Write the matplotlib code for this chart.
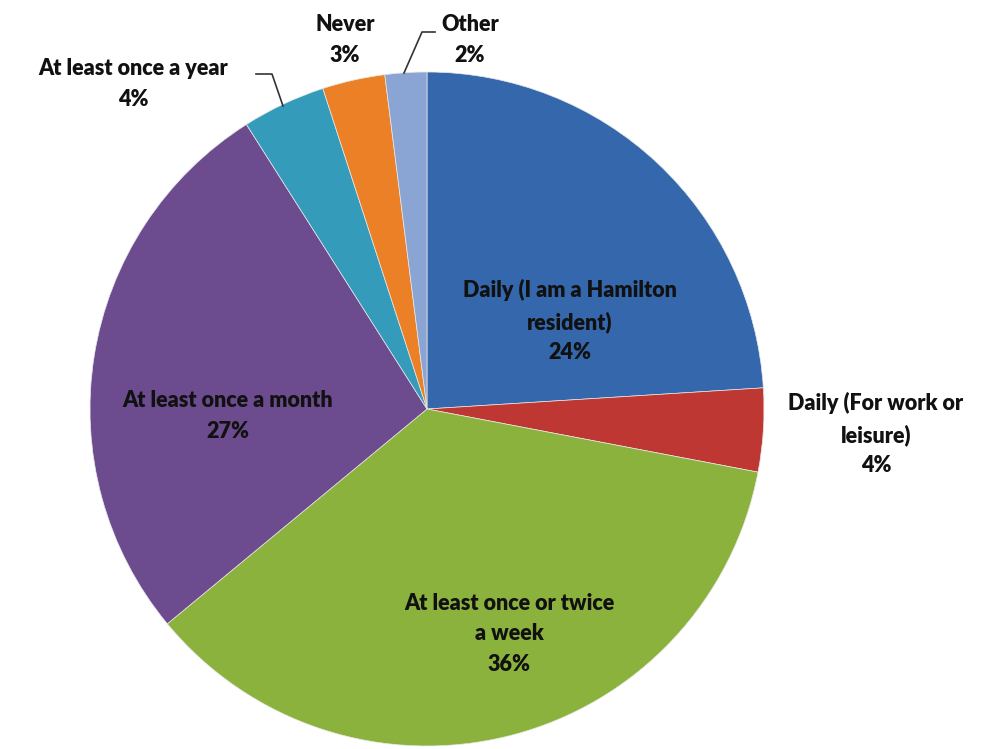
import matplotlib
matplotlib.use("Agg")
import matplotlib.pyplot as plt
import numpy as np

categories = [
    "Daily (I am a Hamilton\nresident)",
    "Daily (For work or\nleisure)",
    "At least once or twice\na week",
    "At least once a month",
    "At least once a year",
    "Never",
    "Other",
]
values = [24, 4, 36, 27, 4, 3, 2]
colors = ["#3467AC", "#BE3732", "#8CB23E", "#6C4C8E", "#349CBA", "#EB8026", "#8AA5D4"]

W, H = 988, 749
fig = plt.figure(figsize=(W / 100, H / 100), dpi=100)
ax = fig.add_axes([0, 0, 1, 1])

cx, cy, R = 427, H - 409, 337
wedges, _ = ax.pie(values, colors=colors, startangle=90, counterclock=False,
                   center=(cx, cy), radius=R, frame=True,
                   wedgeprops=dict(linewidth=0.5, edgecolor="#e8e8e8"))
ax.set_xlim(0, W)
ax.set_ylim(0, H)
ax.axis("off")

font = dict(family=["Lato", "DejaVu Sans"], fontweight="heavy", fontsize=15.5,
            color="#111111", ha="center", va="center", linespacing=1.55)

# label anchor positions (pixel coords, top-left origin)
label_pos = [(570, 321), (876, 434), (509, 634), (228, 416), (133, 84), (345, 40), (470, 40)]
for cat, v, (x, y) in zip(categories, values, label_pos):
    ax.text(x, H - y, f"{cat}\n{v}%", **font)

# leader lines
ax.plot([256, 272, 283], [H - 74, H - 74, H - 106], color="#333333", lw=1.2)
ax.plot([435, 422, 404], [H - 32, H - 32, H - 73], color="#333333", lw=1.2)

fig.savefig("out.png", dpi=100)
